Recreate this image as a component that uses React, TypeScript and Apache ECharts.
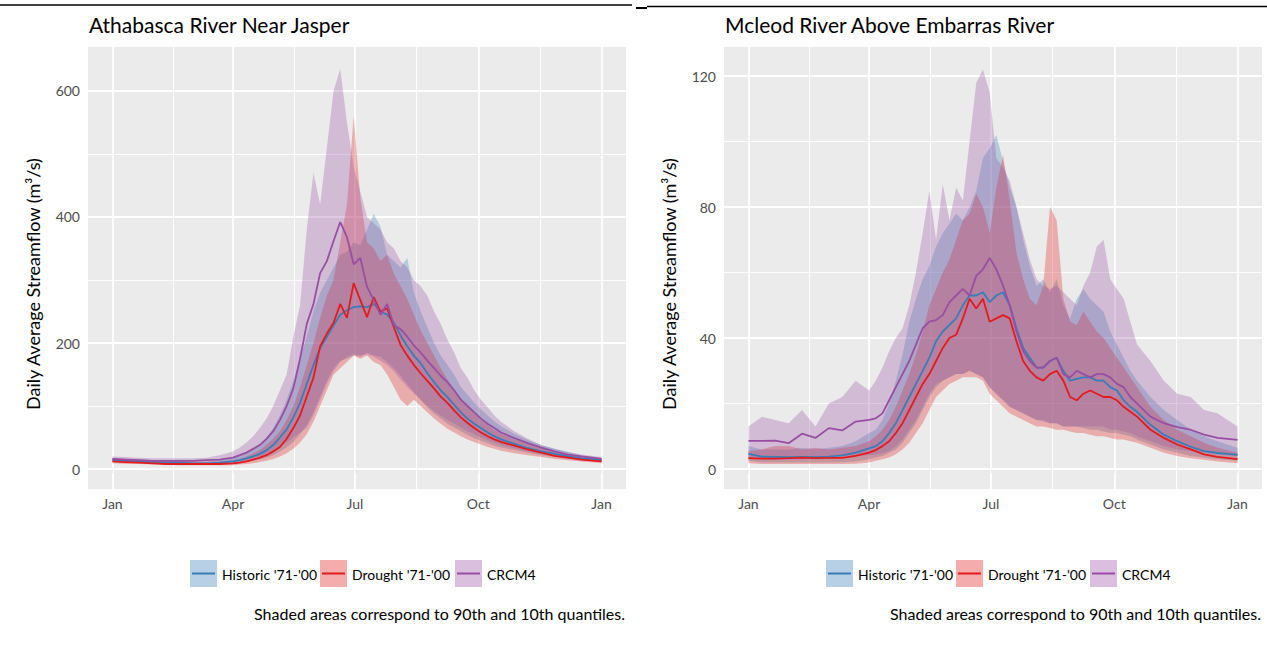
import React, { useEffect, useRef } from "react";
import * as echarts from "echarts";

// ---------- data ----------
const DAYS = [
  0, 10, 20, 30, 40, 50, 60, 70, 80, 90,
  95, 100, 105, 110, 115, 120, 125, 130, 135, 140,
  145, 150, 155, 160, 165, 170, 175, 180, 185, 190,
  195, 200, 205, 210, 215, 220, 225, 230, 235, 240,
  245, 250, 255, 260, 265, 270, 275, 280, 285, 290,
  300, 310, 320, 330, 340, 350, 365,
];

const MONTH_TICKS = [0, 90, 181, 273, 365];
const MONTH_LABELS = ["Jan", "Apr", "Jul", "Oct", "Jan"];
const MONTH_MINOR = [45, 135.5, 227, 319];

const ATH_Y_MAJOR = [0, 200, 400, 600];
const ATH_Y_MINOR = [100, 300, 500];
const MCL_Y_MAJOR = [0, 40, 80, 120];
const MCL_Y_MINOR = [20, 60, 100];

const SERIES_NAMES = ["Historic '71-'00", "Drought '71-'00", "CRCM4"];
const LINE_COLORS = ["#377EB8", "#E41A1C", "#984EA3"];

const PANEL_TITLES = ["Athabasca River Near Jasper", "Mcleod River Above Embarras River"];
const Y_TITLE = "Daily Average Streamflow (m\u00B3/s)";
const CAPTION = "Shaded areas correspond to 90th and 10th quantiles.";

// Athabasca River Near Jasper
const ATH_HIST = [
  14, 13, 12, 11, 10, 10, 9, 9, 10, 12,
  14, 17, 20, 24, 30, 38, 50, 63, 82, 105,
  135, 165, 192, 210, 228, 245, 252, 257, 258, 257,
  262, 250, 245, 232, 212, 195, 180, 168, 152, 138,
  125, 114, 102, 90, 80, 72, 65, 58, 52, 47,
  40, 33, 28, 24, 20, 17, 14,
];
const ATH_HIST_LO = [
  11, 10, 9, 8, 8, 8, 7, 7, 8, 9,
  10, 11, 13, 15, 18, 22, 28, 34, 43, 55,
  70, 90, 115, 140, 160, 172, 175, 180, 178, 185,
  180, 178, 170, 160, 148, 135, 122, 110, 98, 88,
  80, 72, 66, 60, 54, 49, 45, 41, 37, 34,
  30, 26, 22, 19, 16, 14, 11,
];
const ATH_HIST_HI = [
  18, 16, 15, 14, 13, 13, 12, 12, 14, 17,
  21, 26, 32, 40, 50, 65, 85, 110, 140, 175,
  210, 250, 280, 300, 320, 340, 345, 360, 355, 380,
  405, 385, 340, 330, 320, 335, 280, 250, 225, 200,
  180, 165, 150, 130, 118, 105, 95, 85, 76, 68,
  56, 46, 38, 32, 27, 22, 18,
];
const ATH_DRT = [
  12, 11, 10, 9, 8, 8, 8, 8, 8, 9,
  10, 12, 15, 18, 22, 28, 35, 48, 65, 85,
  115, 145, 195, 215, 232, 262, 240, 295, 268, 241,
  273, 250, 255, 225, 197, 180, 165, 152, 140, 128,
  115, 105, 93, 82, 73, 65, 58, 52, 47, 43,
  37, 31, 26, 21, 18, 15, 12,
];
const ATH_DRT_LO = [
  9, 8, 8, 7, 7, 6, 6, 6, 6, 6,
  7, 8, 9, 11, 13, 16, 20, 25, 32, 42,
  55, 75, 100, 125, 150, 160, 170, 180, 175, 180,
  170, 165, 150, 130, 110, 100, 110, 100, 90, 80,
  72, 64, 58, 52, 47, 43, 39, 35, 32, 29,
  25, 22, 19, 16, 14, 12, 9,
];
const ATH_DRT_HI = [
  15, 14, 13, 12, 11, 11, 11, 11, 12, 14,
  16, 20, 25, 30, 38, 48, 60, 78, 100, 130,
  165, 200, 240, 275, 300, 360, 420, 560, 430, 360,
  350, 330, 340, 310, 290, 270, 245, 220, 200, 180,
  160, 142, 125, 112, 100, 88, 78, 70, 62, 56,
  47, 40, 33, 28, 23, 19, 15,
];
const ATH_CRC = [
  16, 15, 14, 13, 13, 13, 13, 14, 15, 18,
  22, 26, 32, 38, 48, 60, 78, 100, 128, 175,
  230, 262, 311, 330, 362, 392, 368, 325, 335, 289,
  268, 245, 262, 228, 222, 210, 196, 185, 172, 160,
  148, 138, 125, 110, 100, 90, 80, 72, 65, 58,
  49, 41, 34, 28, 23, 20, 16,
];
const ATH_CRC_LO = [
  13, 12, 11, 11, 10, 10, 10, 10, 11, 12,
  12, 14, 17, 20, 24, 29, 35, 42, 50, 58,
  65, 85, 110, 135, 155, 170, 178, 182, 180, 182,
  178, 172, 165, 155, 142, 130, 120, 110, 100, 92,
  85, 78, 72, 66, 60, 55, 50, 46, 42, 38,
  33, 28, 24, 20, 17, 15, 12,
];
const ATH_CRC_HI = [
  20, 19, 18, 17, 17, 17, 17, 18, 22, 28,
  34, 42, 52, 65, 80, 100, 125, 150, 210, 260,
  380, 470, 420, 510, 600, 635, 550, 480, 440, 400,
  390, 380, 360, 350, 330, 320, 300, 290, 275, 250,
  230, 205, 185, 160, 145, 125, 110, 98, 85, 75,
  60, 48, 38, 32, 27, 23, 19,
];

// Mcleod River Above Embarras River
const MCL_HIST = [
  4.6, 3.8, 3.7, 3.6, 3.7, 3.6, 3.8, 4.2, 5, 6.3,
  7, 8.5, 11, 14, 18, 22, 26, 30, 34, 39,
  42, 44, 46, 50, 53, 53, 54, 51, 53, 54,
  50, 43, 37, 34, 31, 31, 33, 34, 30, 27,
  27.5, 28, 28, 27, 27, 25, 24, 21, 19, 17.5,
  13.5, 10.5, 8.5, 6.8, 5.5, 4.9, 4.3,
];
const MCL_HIST_LO = [
  2.5, 2, 2, 2, 2, 2, 2, 2.1, 2.3, 3,
  3.5, 4, 5, 6, 8, 11, 14, 18, 22, 25,
  27, 28, 29, 29, 30, 29, 28, 25, 23, 21,
  19, 18, 17, 16, 15, 15, 14, 14, 13, 13,
  13, 12.5, 12, 12, 11.5, 11, 11, 10.5, 10, 9,
  7.5, 6, 5, 4, 3.5, 3, 2.5,
];
const MCL_HIST_HI = [
  7, 6, 6, 6, 6.5, 6, 6.5, 7, 8.5, 11,
  12, 15, 20, 27, 35, 45, 52, 58, 62, 68,
  72, 75, 78, 76, 80, 85, 95, 98, 102, 94,
  86, 80, 70, 62, 56, 58, 54, 58, 50, 46,
  52, 55, 52, 50, 48, 42, 38, 34, 30, 27,
  22, 18, 15, 12, 10, 8.5, 6.5,
];
const MCL_DRT = [
  3.3, 3.2, 3.2, 3.3, 3.5, 3.3, 3.4, 3.4, 4, 5,
  5.8, 7, 8.5, 11, 14, 18, 22, 26, 29, 33,
  37, 40, 41, 46, 52, 49, 52, 45, 46, 47,
  46, 39, 33, 30, 28, 27, 29, 30, 27, 22,
  21, 23, 24, 23, 22, 22, 21, 19, 17.5, 16,
  12, 9.5, 7.5, 6, 4.5, 3.7, 3,
];
const MCL_DRT_LO = [
  1.8, 1.5, 1.5, 1.5, 1.5, 1.5, 1.5, 1.5, 1.6, 2,
  2.5, 3, 3.5, 4.5, 6, 8, 11, 14, 18, 22,
  24, 26, 27, 28, 28, 28, 27, 23, 21, 19,
  17, 16, 15, 14, 13, 13, 12.5, 12, 12, 11.5,
  11, 11, 10.5, 10, 10, 9.5, 9, 9, 8.5, 8,
  6.5, 5, 4, 3.3, 2.8, 2.3, 1.8,
];
const MCL_DRT_HI = [
  5.5, 6, 7, 7, 6, 6.5, 6, 6.5, 7, 8.5,
  10, 12, 15, 19, 24, 29, 35, 42, 50, 55,
  60, 64, 70, 76, 78, 84, 80, 72, 86, 96,
  82, 66, 58, 52, 50, 56, 80, 76, 52, 45,
  44, 48, 45, 42, 40, 37, 34, 31, 28, 25,
  19, 15, 12, 10, 8, 6.5, 5,
];
const MCL_CRC = [
  8.6, 8.6, 8.7, 7.9, 10.8, 9.5, 12.5, 11.8, 14.5, 15,
  15.5, 17, 21, 25, 29, 33, 38, 43, 45, 45.5,
  47, 51, 53, 55, 53, 59, 61, 64.5, 61, 56,
  50, 42, 36, 33, 31, 31, 33, 34, 29, 28,
  30, 29, 28, 29, 29, 28, 26, 25, 22, 20,
  16, 14, 12.8, 12, 10.5, 9.5, 8.9,
];
const MCL_CRC_LO = [
  3, 3, 3, 3, 3, 3.2, 3.5, 3.8, 4, 4.2,
  4.4, 4.8, 5.5, 7, 9, 12, 15, 19, 23, 26,
  27, 28, 29, 29, 30, 29, 28, 25, 23, 21,
  19, 18, 17, 16, 15, 14.5, 14, 14, 13, 13,
  13, 13, 13, 13, 13, 12, 12, 11.5, 11, 10,
  8.5, 7, 6, 5.5, 5, 4.5, 4,
];
const MCL_CRC_HI = [
  13, 16, 15, 14, 18, 13, 20, 22, 27, 24,
  27, 31, 36, 40, 43, 50, 60, 72, 85, 70,
  87, 76, 86, 82, 100, 118, 122, 115, 95, 92,
  88, 80, 72, 64, 58, 56, 55, 56, 54, 52,
  50, 56, 60, 68, 70, 58, 55, 52, 45, 38,
  33, 27, 23, 22, 18, 17, 13,
];

// ---------- helpers ----------
function hexToRgba(hex: string, a: number) {
  const n = parseInt(hex.slice(1), 16);
  return `rgba(${(n >> 16) & 255},${(n >> 8) & 255},${n & 255},${a})`;
}

const FONT = "Lato, 'Open Sans', sans-serif";
const BAND_ALPHA = 0.3;

type Panel = {
  mean: number[][];
  lo: number[][];
  hi: number[][];
  yMin: number;
  yMax: number;
  yMajor: number[];
  yMinor: number[];
};

const PANELS: Panel[] = [
  {
    mean: [ATH_HIST, ATH_DRT, ATH_CRC],
    lo: [ATH_HIST_LO, ATH_DRT_LO, ATH_CRC_LO],
    hi: [ATH_HIST_HI, ATH_DRT_HI, ATH_CRC_HI],
    yMin: -31.7,
    yMax: 669.8,
    yMajor: ATH_Y_MAJOR,
    yMinor: ATH_Y_MINOR,
  },
  {
    mean: [MCL_HIST, MCL_DRT, MCL_CRC],
    lo: [MCL_HIST_LO, MCL_DRT_LO, MCL_CRC_LO],
    hi: [MCL_HIST_HI, MCL_DRT_HI, MCL_CRC_HI],
    yMin: -6.1,
    yMax: 128.9,
    yMajor: MCL_Y_MAJOR,
    yMinor: MCL_Y_MINOR,
  },
];

const GRID_LEFT = [88, 724];
const GRID_TOP = 47;
const GRID_W = 538;
const GRID_H = 442;

function buildOption() {
  const series: any[] = [];
  PANELS.forEach((p, gi) => {
    // bands
    for (let s = 0; s < 3; s++) {
      const lo = p.lo[s];
      const hi = p.hi[s];
      const fill = hexToRgba(LINE_COLORS[s], BAND_ALPHA);
      series.push({
        type: "custom",
        name: SERIES_NAMES[s] + " band",
        xAxisIndex: gi,
        yAxisIndex: gi,
        silent: true,
        z: 2,
        data: DAYS.map((d, i) => [d, lo[i], hi[i]]),
        encode: { x: 0, y: [1, 2] },
        renderItem: (params: any, api: any) => {
          if (params.dataIndex !== 0) return null;
          const top = DAYS.map((d, i) => api.coord([d, hi[i]]));
          const bot = DAYS.map((d, i) => api.coord([d, lo[i]])).reverse();
          return {
            type: "polygon",
            silent: true,
            shape: { points: top.concat(bot) },
            style: { fill },
          };
        },
      });
    }
    // lines
    for (let s = 0; s < 3; s++) {
      const m = p.mean[s];
      const ser: any = {
        type: "line",
        name: SERIES_NAMES[s],
        xAxisIndex: gi,
        yAxisIndex: gi,
        silent: true,
        z: 3,
        symbol: "none",
        showSymbol: false,
        data: DAYS.map((d, i) => [d, m[i]]),
        lineStyle: { color: LINE_COLORS[s], width: 1.8 },
        itemStyle: { color: LINE_COLORS[s] },
      };
      if (s === 0) {
        const major = { color: "#ffffff", width: 1.8, type: "solid" };
        const minor = { color: "#ffffff", width: 0.9, type: "solid" };
        ser.markLine = {
          silent: true,
          z: 1,
          symbol: ["none", "none"],
          label: { show: false },
          emphasis: { disabled: true },
          animation: false,
          data: [
            ...MONTH_MINOR.map((v) => ({ xAxis: v, lineStyle: minor })),
            ...p.yMinor.map((v) => ({ yAxis: v, lineStyle: minor })),
            ...MONTH_TICKS.map((v) => ({ xAxis: v, lineStyle: major })),
            ...p.yMajor.map((v) => ({ yAxis: v, lineStyle: major })),
          ],
        };
      }
      series.push(ser);
    }
  });

  const graphic: any[] = [];
  // top rules
  graphic.push(
    { type: "line", silent: true, shape: { x1: 0, y1: 5, x2: 632, y2: 5 }, style: { stroke: "#000", lineWidth: 1.5 } },
    { type: "line", silent: true, shape: { x1: 636, y1: 8, x2: 647, y2: 8 }, style: { stroke: "#000", lineWidth: 2 } },
    { type: "line", silent: true, shape: { x1: 647, y1: 6.5, x2: 1267, y2: 6.5 }, style: { stroke: "#000", lineWidth: 1.5 } }
  );
  const keyX = [
    [190, 320, 455],
    [826, 956, 1090],
  ];
  const captionRight = [625, 1261];
  PANELS.forEach((_p, gi) => {
    graphic.push({
      type: "text",
      silent: true,
      x: GRID_LEFT[gi] + 1,
      y: 24,
      style: { text: PANEL_TITLES[gi], font: `21px ${FONT}`, fill: "#000", textVerticalAlign: "middle", textAlign: "left" },
    });
    graphic.push({
      type: "text",
      silent: true,
      x: GRID_LEFT[gi] - 55,
      y: GRID_TOP + GRID_H / 2 + 16,
      rotation: Math.PI / 2,
      style: { text: Y_TITLE, font: `18px ${FONT}`, fill: "#000", textAlign: "center", textVerticalAlign: "middle" },
    });
    for (let s = 0; s < 3; s++) {
      const x = keyX[gi][s];
      graphic.push({
        type: "rect",
        silent: true,
        shape: { x, y: 560, width: 27, height: 27 },
        style: { fill: hexToRgba(LINE_COLORS[s], 0.36) },
      });
      graphic.push({
        type: "line",
        silent: true,
        shape: { x1: x + 2, y1: 573.5, x2: x + 25, y2: 573.5 },
        style: { stroke: LINE_COLORS[s], lineWidth: 2 },
      });
      graphic.push({
        type: "text",
        silent: true,
        x: x + 32,
        y: 574,
        style: { text: SERIES_NAMES[s], font: `14px ${FONT}`, fill: "#000", textVerticalAlign: "middle", textAlign: "left" },
      });
    }
    graphic.push({
      type: "text",
      silent: true,
      x: captionRight[gi],
      y: 613,
      style: { text: CAPTION, font: `16px ${FONT}`, fill: "#000", textVerticalAlign: "middle", textAlign: "right" },
    });
  });

  return {
    animation: false,
    backgroundColor: "#ffffff",
    textStyle: { fontFamily: FONT },
    grid: PANELS.map((_p, gi) => ({
      left: GRID_LEFT[gi],
      top: GRID_TOP,
      width: GRID_W,
      height: GRID_H,
      show: true,
      backgroundColor: "#ebebeb",
      borderWidth: 0,
      containLabel: false,
    })),
    xAxis: PANELS.map((_p, gi) => ({
      type: "value",
      gridIndex: gi,
      min: -18.25,
      max: 383.25,
      axisLine: { show: false },
      axisTick: { show: true, customValues: MONTH_TICKS, length: 4, lineStyle: { color: "#333", width: 1 } },
      axisLabel: {
        customValues: MONTH_TICKS,
        formatter: (v: number) => {
          const k = MONTH_TICKS.indexOf(v);
          return k >= 0 ? MONTH_LABELS[k] : "";
        },
        color: "#4d4d4d",
        fontSize: 14,
        fontFamily: FONT,
        margin: 7,
        showMinLabel: true,
        showMaxLabel: true,
      },
      splitLine: { show: false },
      minorSplitLine: { show: false },
    })),
    yAxis: PANELS.map((p, gi) => ({
      type: "value",
      gridIndex: gi,
      min: p.yMin,
      max: p.yMax,
      axisLine: { show: false },
      axisTick: { show: true, customValues: p.yMajor, length: 4, lineStyle: { color: "#333", width: 1 } },
      axisLabel: {
        customValues: p.yMajor,
        color: "#4d4d4d",
        fontSize: 14,
        fontFamily: FONT,
        margin: 8,
      },
      splitLine: { show: false },
    })),
    series,
    graphic,
  };
}

export default function App() {
  const ref = useRef<HTMLDivElement>(null);
  useEffect(() => {
    document.body.style.margin = "0";
    if (!ref.current) return;
    const chart = echarts.init(ref.current, undefined, { renderer: "svg" });
    chart.setOption(buildOption() as any);
    return () => {
      chart.dispose();
    };
  }, []);
  return <div ref={ref} style={{ width: 1267, height: 660 }} />;
}
